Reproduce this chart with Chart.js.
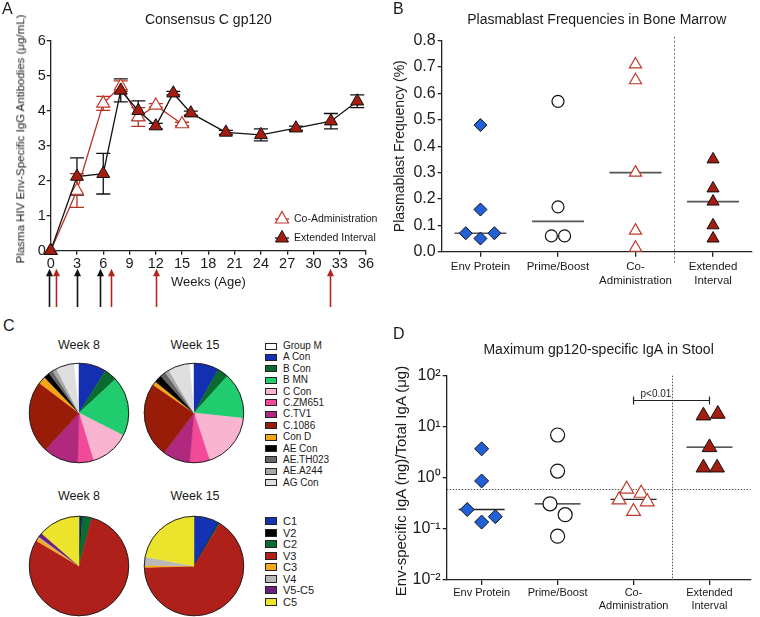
<!DOCTYPE html>
<html><head><meta charset="utf-8">
<script src="https://cdn.jsdelivr.net/npm/chart.js@4.4.1/dist/chart.umd.min.js"></script>
<style>
html,body{margin:0;padding:0;background:#fff;}
#fig{position:relative;width:760px;height:617px;overflow:hidden;font-family:"Liberation Sans",Arial,sans-serif;color:#1a1a1a;}
#fig canvas{position:absolute;}
.t{position:absolute;white-space:nowrap;line-height:1;}
.c{transform:translate(-50%,-50%);}
.m{transform:translateY(-50%);}
.v{transform:translate(-50%,-50%) rotate(-90deg);}
.panel{font-size:16px;}
.sw{position:absolute;border:1px solid #222;box-sizing:border-box;}
</style></head><body>
<div id="fig">
 <canvas id="cA" width="380" height="310" style="left:0;top:0"></canvas>
 <canvas id="cB" width="380" height="310" style="left:380px;top:0"></canvas>
 <canvas id="cD" width="380" height="307" style="left:380px;top:310px"></canvas>
 <canvas id="pTop8" width="104" height="104" style="left:27px;top:361px"></canvas>
 <canvas id="pTop15" width="104" height="104" style="left:142px;top:361px"></canvas>
 <canvas id="pBot8" width="104" height="104" style="left:27px;top:514px"></canvas>
 <canvas id="pBot15" width="104" height="104" style="left:142px;top:514px"></canvas>

 <div class="t panel" style="left:2px;top:0.6px">A</div>
 <div class="t panel" style="left:393px;top:0.6px">B</div>
 <div class="t panel" style="left:3px;top:318px">C</div>
 <div class="t panel" style="left:393px;top:326px">D</div>

 <div class="t v" style="left:21px;top:138.5px;font-size:11.5px">Plasma HIV Env-Specific IgG Antibodies (μg/mL)</div>
 <div class="t v" style="left:400px;top:481px;font-size:15px">Env-specific IgA (ng)/Total IgA (μg)</div>

 <div class="t" style="left:270px;top:209px"><svg width="24" height="18"><line x1="5" y1="10" x2="19" y2="10" stroke="#b83224" stroke-width="1.3"/><polygon points="12,2.5 18.5,14 5.5,14" fill="#fff" stroke="#c0392b" stroke-width="1.2"/></svg></div>
 <div class="t m" style="left:294px;top:218px;font-size:10.5px">Co-Administration</div>
 <div class="t" style="left:270px;top:228px"><svg width="24" height="18"><line x1="5" y1="10" x2="19" y2="10" stroke="#111" stroke-width="1.3"/><polygon points="12,2.5 18.5,14 5.5,14" fill="#a51c10" stroke="#111" stroke-width="1"/></svg></div>
 <div class="t m" style="left:294px;top:237px;font-size:10.5px">Extended Interval</div>

 <div class="t c" style="left:79px;top:345px;font-size:12.5px">Week 8</div>
 <div class="t c" style="left:195px;top:345px;font-size:12.5px">Week 15</div>
 <div class="t c" style="left:79px;top:496px;font-size:12.5px">Week 8</div>
 <div class="t c" style="left:195px;top:496px;font-size:12.5px">Week 15</div>
 <div id="legTop"></div>
 <div id="legBot"></div>
</div>
<script>
// ================= DATA =================
// Panel A: Consensus C gp120 IgG (mean and error, ug/mL) by week of age
const extWeeks = [0, 3, 6, 8, 10, 12, 14, 16, 20, 24, 28, 32, 35];
const extMean  = [0, 2.12, 2.2, 4.58, 4.0, 3.56, 4.5, 3.93, 3.38, 3.31, 3.5, 3.7, 4.27];
const extErr   = [0, 0.53, 0.58, 0.33, 0.28, 0.08, 0.05, 0.06, 0.06, 0.17, 0.06, 0.22, 0.18];
const coWeeks  = [0, 3, 6, 8, 10, 12, 15];
const coMean   = [0, 1.72, 4.21, 4.7, 3.82, 4.15, 3.62];
const coErr    = [0, 0.48, 0.2, 0.15, 0.27, 0.05, 0.05];
const blackDoseWeeks = [-0.25, 3.05, 5.65];
const redDoseWeeks   = [0.6, 6.85, 12.0, 31.9];
const weekTickStep = 3;

// Panels B and D: group categories
const groupLabels = ['Env Protein', 'Prime/Boost', ['Co-', 'Administration'], ['Extended', 'Interval']];

// Panel B: plasmablast frequency (%)
const pbEnv      = [0.48, 0.16, 0.07, 0.05, 0.07];
const pbEnvJit   = [0, 0, -0.19, 0, 0.18];
const pbPrime    = [0.57, 0.17, 0.06, 0.06];
const pbPrimeJit = [0, 0, -0.085, 0.085];
const pbCo       = [0.71, 0.65, 0.30, 0.08, 0.015];
const pbCoJit    = [0, 0, 0, 0, 0];
const pbExt      = [0.35, 0.24, 0.19, 0.10, 0.05];
const pbExtJit   = [0, 0, 0, 0, 0];
const pbMedians  = [0.07, 0.115, 0.30, 0.19];

// Panel D: max gp120-specific IgA in stool
const igaEnv      = [3.7, 0.87, 0.24, 0.136, 0.174];
const igaEnvJit   = [0, 0, -0.19, 0, 0.18];
const igaPrime    = [6.9, 1.36, 0.31, 0.19, 0.072];
const igaPrimeJit = [0, 0, -0.1, 0.1, 0];
const igaCo       = [0.6, 0.5, 0.37, 0.34, 0.22];
const igaCoJit    = [-0.09, 0.1, -0.19, 0.18, 0];
const igaExt      = [16.5, 17.8, 3.95, 1.58, 1.58];
const igaExtJit   = [-0.08, 0.11, 0, -0.08, 0.1];
const igaMedians  = [0.24, 0.31, 0.38, 4.0];
const igaCutoff   = 0.61;
const igaLogTicks = [0.01, 0.1, 1, 10, 100];
const pValueFrom = 2, pValueTo = 3, pValueY = 33, pValueText = 'p<0.01';

// Panel C: specificity pies (% of response)
const antigenLabels = ['Group M','A Con','B Con','B MN','C Con','C.ZM651','C.TV1','C.1086','Con D','AE Con','AE.TH023','AE.A244','AG Con'];
const antigenColors = ['#ffffff','#1430b2','#0b6a2d','#20cc6e','#f9b4cf','#f04a98','#b0297f','#981c07','#f5a519','#000000','#666666','#a8a8a8','#dedede'];
const antigenWeek8  = [1.7, 8.9, 4.2, 19.4, 12.8, 5.1, 11.4, 23.5, 2.5, 1.9, 1.4, 1.4, 5.8];
const antigenWeek15 = [1.5, 8.1, 3.6, 15.0, 18.2, 6.5, 8.9, 24.3, 1.3, 2.5, 1.8, 1.3, 7.0];
const regionLabels = ['C1','V2','C2','V3','C3','V4','V5-C5','C5'];
const regionColors = ['#1333b3','#000000','#0b6b34','#b0201a','#f6a91d','#b9b9b9','#6e1f7c','#ece42c'];
const regionWeek8  = [0.7, 0.3, 3.1, 79.4, 1.1, 0.4, 1.4, 13.6];
const regionWeek15 = [8.2, 0.1, 0.4, 65.8, 0.7, 2.8, 0, 22.0];

// ================= STYLE =================
Chart.defaults.font.family = '"Liberation Sans", Arial, sans-serif';
Chart.defaults.color = '#1a1a1a';
Chart.defaults.animation = false;
Chart.defaults.responsive = false;
Chart.defaults.events = [];
Chart.defaults.plugins.legend.display = false;
Chart.defaults.plugins.tooltip.enabled = false;
const AX = '#222';
const DARKRED = '#a51c10', OPENRED = '#c0392b', BLUE = '#2160d6';

function scaleCfg(o) {
  return Object.assign({
    border: {display: true, color: AX, width: 1.3},
    grid: {display: true, drawOnChartArea: false, drawTicks: true, tickLength: o.tickLength || 5, color: AX, lineWidth: 1.3},
  }, o.extra, {
    ticks: Object.assign({color: '#1a1a1a', font: {size: o.fontSize}, padding: o.padding}, o.ticks || {})
  });
}

// ================= PLUGINS =================
const errorBarPlugin = {
  id: 'errbars',
  beforeDatasetsDraw(chart) {
    const {ctx, scales: {x, y}} = chart;
    chart.data.datasets.forEach(ds => {
      if (!ds.err) return;
      ctx.save();
      ctx.strokeStyle = ds.errColor; ctx.lineWidth = 1.3;
      ds.data.forEach((p, j) => {
        const e = ds.err[j]; if (!e) return;
        const px = x.getPixelForValue(p.x), hi = y.getPixelForValue(p.y + e), lo = y.getPixelForValue(p.y - e);
        ctx.beginPath();
        ctx.moveTo(px, hi); ctx.lineTo(px, lo);
        ctx.moveTo(px - 7, hi); ctx.lineTo(px + 7, hi);
        ctx.moveTo(px - 7, lo); ctx.lineTo(px + 7, lo);
        ctx.stroke();
      });
      ctx.restore();
    });
  }
};
const doseArrowPlugin = {
  id: 'doses',
  afterDraw(chart) {
    const {ctx, scales: {x}, chartArea} = chart;
    const top = chartArea.bottom + 18, bot = chart.height - 3;
    const draw = (weeks, color) => weeks.forEach(w => {
      const px = Math.round(x.getPixelForValue(w)) + 0.5;
      ctx.save();
      ctx.strokeStyle = color; ctx.fillStyle = color; ctx.lineWidth = 1.6;
      ctx.beginPath(); ctx.moveTo(px, top + 5); ctx.lineTo(px, bot); ctx.stroke();
      ctx.beginPath(); ctx.moveTo(px, top); ctx.lineTo(px - 3.5, top + 7.5); ctx.lineTo(px + 3.5, top + 7.5); ctx.closePath(); ctx.fill();
      ctx.restore();
    });
    draw(blackDoseWeeks, '#111');
    draw(redDoseWeeks, '#b3261e');
  }
};
const medianPlugin = {
  id: 'medians',
  beforeDatasetsDraw(chart, args, opts) {
    const {ctx, scales: {x, y}} = chart;
    ctx.save(); ctx.strokeStyle = opts.color; ctx.lineWidth = opts.width;
    opts.values.forEach((m, i) => {
      const px = x.getPixelForValue(i), py = y.getPixelForValue(m);
      ctx.beginPath(); ctx.moveTo(px - opts.half, py); ctx.lineTo(px + opts.half, py); ctx.stroke();
    });
    ctx.restore();
  }
};
const refLinePlugin = {
  id: 'reflines',
  beforeDatasetsDraw(chart, args, opts) {
    const {ctx, scales: {x, y}, chartArea} = chart;
    ctx.save();
    ctx.strokeStyle = opts.color; ctx.lineWidth = 1; ctx.setLineDash(opts.dash);
    if (opts.vx !== undefined) {
      const px = Math.round(x.getPixelForValue(opts.vx)) + 0.5;
      ctx.beginPath(); ctx.moveTo(px, chartArea.top - (opts.vAbove || 0)); ctx.lineTo(px, chartArea.bottom + (opts.vBelow || 0)); ctx.stroke();
    }
    if (opts.hy !== undefined) {
      const py = Math.round(y.getPixelForValue(opts.hy)) + 0.5;
      ctx.beginPath(); ctx.moveTo(chartArea.left, py); ctx.lineTo(chartArea.right, py); ctx.stroke();
    }
    ctx.restore();
  }
};
const bracketPlugin = {
  id: 'bracket',
  afterDatasetsDraw(chart, args, opts) {
    const {ctx, scales: {x, y}} = chart;
    const x1 = x.getPixelForValue(opts.from), x2 = x.getPixelForValue(opts.to), py = Math.round(y.getPixelForValue(opts.y)) + 0.5;
    ctx.save();
    ctx.strokeStyle = '#222'; ctx.lineWidth = 1.2;
    ctx.beginPath();
    ctx.moveTo(x1, py); ctx.lineTo(x2, py);
    ctx.moveTo(x1, py - 4); ctx.lineTo(x1, py + 4);
    ctx.moveTo(x2, py - 4); ctx.lineTo(x2, py + 4);
    ctx.stroke();
    ctx.fillStyle = '#222'; ctx.font = '10px "Liberation Sans", Arial, sans-serif';
    ctx.textAlign = 'left'; ctx.textBaseline = 'bottom';
    ctx.fillText(opts.text, x1 + 7, py - 1);
    ctx.restore();
  }
};
const pieOutline = {
  id: 'pieOutline',
  afterDatasetsDraw(chart) {
    const arc = chart.getDatasetMeta(0).data[0]; if (!arc) return;
    const {ctx} = chart;
    ctx.save(); ctx.beginPath(); ctx.arc(arc.x, arc.y, arc.outerRadius, 0, Math.PI * 2);
    ctx.strokeStyle = '#222'; ctx.lineWidth = 1; ctx.stroke(); ctx.restore();
  }
};

// ================= PANEL A =================
new Chart(document.getElementById('cA'), {
  type: 'line',
  data: {datasets: [
    {label: 'Extended Interval', data: extWeeks.map((w, i) => ({x: w, y: extMean[i]})), err: extErr, errColor: '#111',
     borderColor: '#111', borderWidth: 1.3, pointStyle: 'triangle', pointRadius: 7.5,
     pointBackgroundColor: DARKRED, pointBorderColor: '#111', pointBorderWidth: 1, clip: false, tension: 0},
    {label: 'Co-Administration', data: coWeeks.map((w, i) => ({x: w, y: coMean[i]})), err: coErr, errColor: '#b83224',
     borderColor: '#b83224', borderWidth: 1.3, pointStyle: 'triangle', pointRadius: 7.5,
     pointBackgroundColor: '#fff', pointBorderColor: OPENRED, pointBorderWidth: 1.2, clip: false, tension: 0}
  ]},
  options: {
    layout: {padding: {left: 0, right: 14, top: 0, bottom: 0}},
    plugins: {title: {display: true, text: 'Consensus C gp120', fullSize: false, color: '#1a1a1a',
      font: {size: 14, weight: 'normal'}, padding: {top: 11.6, bottom: 12.3}}},
    scales: {
      x: scaleCfg({fontSize: 14.5, padding: 1, tickLength: 4,
        extra: {type: 'linear', min: 0, max: 36,
          title: {display: true, text: 'Weeks (Age)', color: '#1a1a1a', font: {size: 13}, padding: {top: 0, bottom: 20.2}},
          afterFit: s => { s.height = 59.3; }},
        ticks: {stepSize: weekTickStep}}),
      y: scaleCfg({fontSize: 14.5, padding: 1, tickLength: 4,
        extra: {type: 'linear', min: 0, max: 6, afterFit: s => { s.width = 50.7; }},
        ticks: {stepSize: 1}})
    }
  },
  plugins: [errorBarPlugin, doseArrowPlugin]
});

// ================= PANEL B =================
function groupSet(vals, jit, gi, style) {
  return Object.assign({data: vals.map((v, i) => ({x: gi + jit[i], y: v})), clip: false}, style);
}
const styEnv   = r => ({pointStyle: 'rectRot', pointRadius: r, pointBackgroundColor: BLUE, pointBorderColor: '#111', pointBorderWidth: 1});
const styPrime = r => ({pointStyle: 'circle', pointRadius: r, pointBackgroundColor: '#fff', pointBorderColor: '#111', pointBorderWidth: 1.2});
const styCo    = r => ({pointStyle: 'triangle', pointRadius: r, pointBackgroundColor: '#fff', pointBorderColor: OPENRED, pointBorderWidth: 1.2});
const styExt   = r => ({pointStyle: 'triangle', pointRadius: r, pointBackgroundColor: DARKRED, pointBorderColor: '#111', pointBorderWidth: 1});

const groupXScale = (fontSize, padding, min, max, height) => scaleCfg({fontSize, padding, tickLength: 5,
  extra: {type: 'linear', min, max,
    afterBuildTicks: s => { s.ticks = groupLabels.map((_, i) => ({value: i})); },
    afterFit: s => { s.height = height; }},
  ticks: {autoSkip: false, maxRotation: 0, callback: (v, i) => groupLabels[i]}});

new Chart(document.getElementById('cB'), {
  type: 'scatter',
  data: {datasets: [
    groupSet(pbEnv, pbEnvJit, 0, styEnv(6.5)),
    groupSet(pbPrime, pbPrimeJit, 1, styPrime(6)),
    groupSet(pbCo, pbCoJit, 2, styCo(7)),
    groupSet(pbExt, pbExtJit, 3, styExt(7))
  ]},
  options: {
    layout: {padding: 0},
    plugins: {
      title: {display: true, text: 'Plasmablast Frequencies in Bone Marrow', fullSize: false, color: '#1a1a1a',
        font: {size: 14, weight: 'normal'}, padding: {top: 11.6, bottom: 12.3}},
      medians: {values: pbMedians, half: 26, color: '#555', width: 1.6},
      reflines: {vx: 2.5, color: '#777', dash: [2, 2], vAbove: 4, vBelow: 11}
    },
    scales: {
      x: groupXScale(11.5, 3, -0.5, 3.5, 58.3),
      y: scaleCfg({fontSize: 16, padding: 2, tickLength: 4,
        extra: {type: 'linear', min: 0, max: 0.8,
          title: {display: true, text: 'Plasmablast Frequency (%)', color: '#1a1a1a', font: {size: 14}, padding: {top: 11.6, bottom: 0}},
          afterFit: s => { s.width = 61.7; }},
        ticks: {stepSize: 0.1, callback: v => v.toFixed(1)}})
    }
  },
  plugins: [medianPlugin, refLinePlugin]
});

// ================= PANEL D =================
const supMap = {'-2': '\u207B\u00B2', '-1': '\u207B\u00B9', '0': '\u2070', '1': '\u00B9', '2': '\u00B2'};
new Chart(document.getElementById('cD'), {
  type: 'scatter',
  data: {datasets: [
    groupSet(igaEnv, igaEnvJit, 0, styEnv(7)),
    groupSet(igaPrime, igaPrimeJit, 1, styPrime(7)),
    groupSet(igaCo, igaCoJit, 2, styCo(8)),
    groupSet(igaExt, igaExtJit, 3, styExt(8.5))
  ]},
  options: {
    layout: {padding: 0},
    plugins: {
      title: {display: true, text: 'Maximum gp120-specific IgA in Stool', fullSize: false, color: '#1a1a1a',
        font: {size: 14, weight: 'normal'}, padding: {top: 31.6, bottom: 17.3}},
      medians: {values: igaMedians, half: 23, color: '#222', width: 1.3},
      reflines: {vx: 2.5, hy: igaCutoff, color: '#555', dash: [1.5, 1.5]},
      bracket: {from: pValueFrom, to: pValueTo, y: pValueY, text: pValueText}
    },
    scales: {
      x: groupXScale(11, 1, -0.46, 3.54, 37),
      y: scaleCfg({fontSize: 16, padding: 2, tickLength: 4,
        extra: {type: 'logarithmic', min: 0.01, max: 100,
          afterBuildTicks: s => { s.ticks = igaLogTicks.map(v => ({value: v, major: true})); },
          afterFit: s => { s.width = 66.7; }},
        ticks: {autoSkip: false, callback: v => '10' + supMap[String(Math.round(Math.log10(v)))]}})
    }
  },
  plugins: [medianPlugin, refLinePlugin, bracketPlugin]
});

// ================= PANEL C =================
function makePie(id, labels, values, colors, rotation) {
  new Chart(document.getElementById(id), {
    type: 'pie',
    data: {labels, datasets: [{data: values, backgroundColor: colors, borderColor: colors, borderWidth: 0.5}]},
    options: {layout: {padding: 2}, rotation},
    plugins: [pieOutline]
  });
}
const startAfterFirst = vals => -vals[0] / vals.reduce((a, b) => a + b, 0) * 360;
makePie('pTop8', antigenLabels, antigenWeek8, antigenColors, startAfterFirst(antigenWeek8));
makePie('pTop15', antigenLabels, antigenWeek15, antigenColors, startAfterFirst(antigenWeek15));
makePie('pBot8', regionLabels, regionWeek8, regionColors, 0);
makePie('pBot15', regionLabels, regionWeek15, regionColors, 0);

function buildLegend(el, labels, colors, y0, dy, boxH, fontSize) {
  let html = '';
  labels.forEach((l, i) => {
    const yc = y0 + i * dy;
    html += `<div class="sw" style="left:265px;top:${yc - boxH / 2}px;width:12px;height:${boxH}px;background:${colors[i]}"></div>`;
    html += `<div class="t m" style="left:283px;top:${yc}px;font-size:${fontSize}px;font-family:'Liberation Sans Narrow','Liberation Sans',Arial,sans-serif">${l}</div>`;
  });
  el.innerHTML = html;
}
buildLegend(document.getElementById('legTop'), antigenLabels, antigenColors, 346, 11.39, 7, 10);
buildLegend(document.getElementById('legBot'), regionLabels, regionColors, 521, 11.55, 8, 11);
</script>
</body></html>
